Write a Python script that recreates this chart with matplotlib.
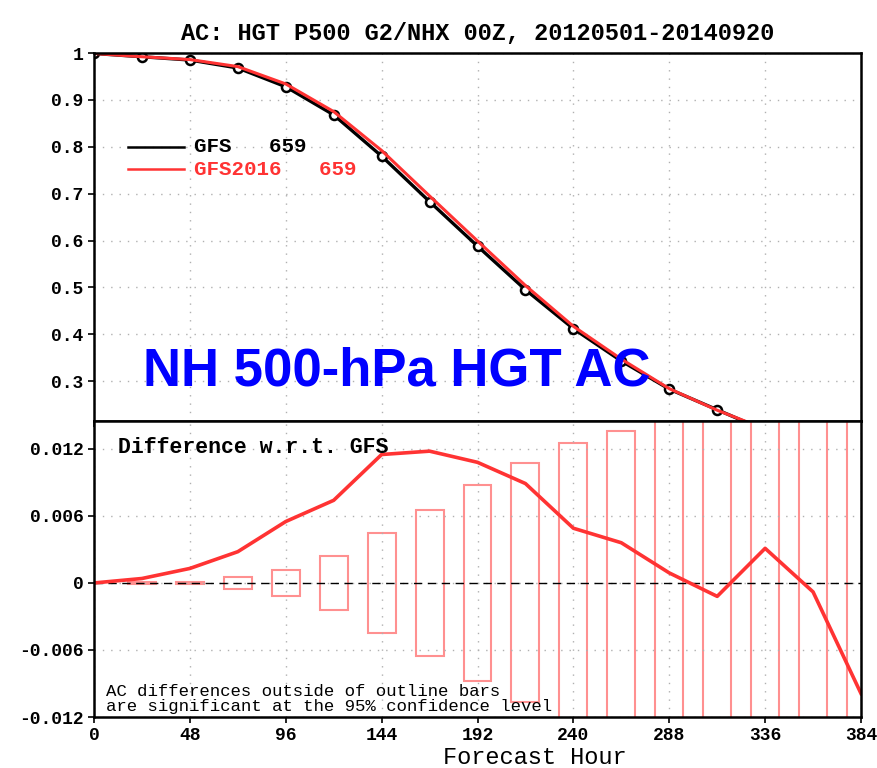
import numpy as np
import matplotlib.pyplot as plt
from matplotlib.patches import Rectangle

# datos
horas = [0, 24, 48, 72, 96, 120, 144, 168, 192, 216, 240, 264, 288, 312, 336, 360, 384]
ac_gfs = [0.999, 0.992, 0.985, 0.968, 0.928, 0.868, 0.780, 0.683, 0.588, 0.495,
          0.412, 0.343, 0.283, 0.239, 0.195, 0.160, 0.130]
ac_gfs2015 = [0.999, 0.992, 0.986, 0.971, 0.934, 0.875, 0.792, 0.695, 0.599, 0.504,
              0.417, 0.347, 0.284, 0.238, 0.198, 0.159, 0.120]
dif = [0.0, 0.0004, 0.0013, 0.0028, 0.0055, 0.0074, 0.0115, 0.0118, 0.0108, 0.0089,
       0.0049, 0.0036, 0.0009, -0.0012, 0.0031, -0.0008, -0.0099]
sig = [0.0, 0.0001, 0.0001, 0.0005, 0.0012, 0.0024, 0.0045, 0.0065, 0.0088, 0.0107,
       0.0125, 0.0136, 0.016, 0.018, 0.020, 0.022, 0.024]

xticks = [0, 48, 96, 144, 192, 240, 288, 336, 384]
yticks_ac = [1, 0.9, 0.8, 0.7, 0.6, 0.5, 0.4, 0.3]
ylabels_ac = ["1", "0.9", "0.8", "0.7", "0.6", "0.5", "0.4", "0.3"]
yticks_dif = [0.012, 0.006, 0, -0.006, -0.012]
ylabels_dif = ["0.012", "0.006", "0", "-0.006", "-0.012"]

mono = "Liberation Mono"
rojo = "#ff3333"
rosa = "#ff9090"

fig = plt.figure(figsize=(8.77, 7.68), dpi=100)
W, H = 877, 768
ax1 = fig.add_axes([94 / W, 1 - 421 / H, 767 / W, 368 / H])
ax2 = fig.add_axes([94 / W, 1 - 717 / H, 767 / W, 296 / H])

# panel de arriba
ax1.plot(horas, ac_gfs, "-", color="black", lw=2.4, marker="o", ms=6.5,
         mfc="white", mec="black", mew=1.8)
ax1.plot(horas, ac_gfs2015, "-", color=rojo, lw=2.2)
ax1.set_xlim(0, 384)
ax1.set_ylim(0.215, 1.0)
ax1.set_xticks(xticks)
ax1.set_xticklabels([])
ax1.tick_params(axis="x", length=0)
ax1.set_yticks(yticks_ac)
ax1.set_yticklabels(ylabels_ac, fontfamily=mono, fontweight="bold", fontsize=13)
ax1.grid(True, color="#b0b0b0", lw=1, ls=(0, (1, 5)))
ax1.set_title("AC: HGT P500 G2/NHX 00Z, 20120501-20140920", fontfamily=mono,
              fontweight="bold", fontsize=17, pad=9)

# leyenda a mano
ax1.plot([17, 45], [0.8, 0.8], color="black", lw=1.8)
ax1.plot([17, 45], [0.752, 0.752], color=rojo, lw=1.8)
ax1.text(50, 0.8, "GFS   659", color="black", fontfamily=mono, fontweight="bold",
         fontsize=15, va="center")
ax1.text(50, 0.752, "GFS2016   659", color=rojo, fontfamily=mono, fontweight="bold",
         fontsize=15, va="center")

fig.text(143 / W, 1 - 386 / H, "NH 500-hPa HGT AC", color="#0000ff",
         fontfamily="Liberation Sans", fontweight="bold", fontsize=38, va="baseline")

# panel de abajo
for h, s in zip(horas, sig):
    if s > 0:
        ax2.add_patch(Rectangle((h - 7, -s), 14, 2 * s, fill=False, ec=rosa, lw=1.5))
ax2.axhline(0, color="black", lw=1, ls=(0, (6, 4)))
ax2.plot(horas, dif, color=rojo, lw=2.6)
ax2.set_xlim(0, 384)
ax2.set_ylim(-0.012, 0.0145)
ax2.set_xticks(xticks)
ax2.set_xticklabels([str(t) for t in xticks], fontfamily=mono, fontweight="bold", fontsize=13)
ax2.set_yticks(yticks_dif)
ax2.set_yticklabels(ylabels_dif, fontfamily=mono, fontweight="bold", fontsize=13)
ax2.grid(True, color="#b0b0b0", lw=1, ls=(0, (1, 5)))
fig.text(535 / W, 1 - 757 / H, "Forecast Hour", fontfamily=mono, fontsize=17,
         ha="center", va="center")
ax2.text(12, 0.0121, "Difference w.r.t. GFS", fontfamily=mono, fontweight="bold",
         fontsize=15.5, va="center")
ax2.text(6, -0.0097, "AC differences outside of outline bars", fontfamily=mono,
         fontsize=12.5, va="center")
ax2.text(6, -0.0111, "are significant at the 95% confidence level", fontfamily=mono,
         fontsize=12.5, va="center")

for ax in (ax1, ax2):
    for sp in ax.spines.values():
        sp.set_linewidth(1.8)
    ax.tick_params(direction="out", length=4, width=1.2)

fig.savefig("out.png", dpi=100)
